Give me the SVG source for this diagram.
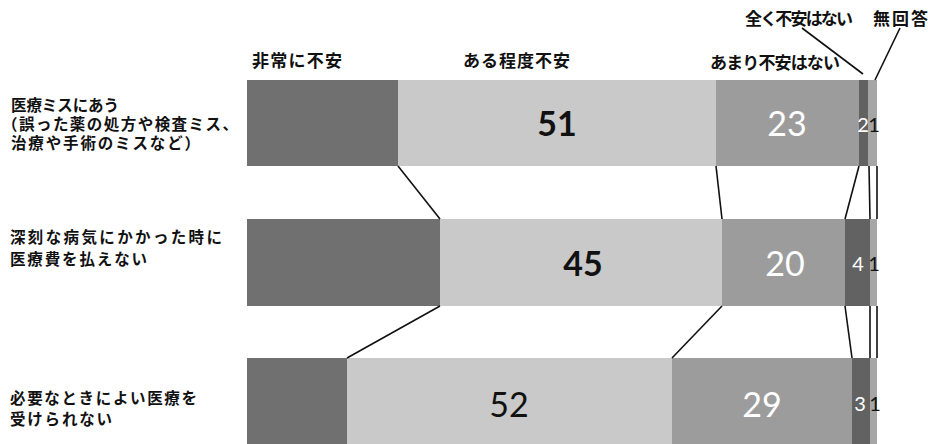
<svg xmlns="http://www.w3.org/2000/svg" width="928" height="444" viewBox="0 0 928 444">
<style>
.jp{font-family:"Noto Sans CJK JP","Noto Sans CJK SC",sans-serif;font-weight:bold;fill:#111}
.hd{font-size:17px}
.rl{font-size:15.5px}
.num{font-family:Lato,"Liberation Sans",sans-serif;font-size:34px;text-anchor:middle}
.sm{font-family:Lato,"Liberation Sans",sans-serif;font-size:20px;text-anchor:middle}
.dk{fill:#111}
.wh{fill:#fff}
.c1{fill:#707070}
.c2{fill:#c9c9c9}
.c3{fill:#9c9c9c}
.c4{fill:#626262}
.c5{fill:#a6a6a6}
.ln{stroke:#111;stroke-width:1.6;fill:none}
</style>
<rect width="928" height="444" fill="#fff"/>
<g id="headers">
<text class="jp hd" x="252" y="67" textLength="90">非常に不安</text>
<text class="jp hd" x="463" y="67" textLength="107">ある程度不安</text>
<text class="jp hd" x="710" y="69" textLength="130">あまり不安はない</text>
<text class="jp hd" x="745" y="25" textLength="108">全く不安はない</text>
<text class="jp hd" x="873" y="25" textLength="55">無回答</text>
</g>
<g id="row1">
<text class="jp rl" x="11" y="111" textLength="108">医療ミスにあう</text>
<text class="jp rl" x="2" y="130" textLength="236">（誤った薬の処方や検査ミス、</text>
<text class="jp rl" x="11" y="149" textLength="189">治療や手術のミスなど）</text>
<rect class="c1" x="247" y="80" width="151" height="86"/>
<rect class="c2" x="398" y="80" width="318" height="86"/>
<rect class="c3" x="716" y="80" width="143" height="86"/>
<rect class="c4" x="859" y="80" width="9" height="86"/>
<rect class="c5" x="868" y="80" width="9" height="86"/>
<text class="num dk" x="557" y="136" font-weight="bold">51</text>
<text class="num wh" x="787" y="136">23</text>
<text class="sm wh" x="863" y="132">2</text>
<text class="sm dk" x="874" y="132">1</text>
</g>
<g id="row2">
<text class="jp rl" x="10" y="243" textLength="212">深刻な病気にかかった時に</text>
<text class="jp rl" x="10" y="265" textLength="137">医療費を払えない</text>
<rect class="c1" x="247" y="219" width="193" height="87"/>
<rect class="c2" x="440" y="219" width="282" height="87"/>
<rect class="c3" x="722" y="219" width="123" height="87"/>
<rect class="c4" x="845" y="219" width="25" height="87"/>
<rect class="c5" x="870" y="219" width="7" height="87"/>
<text class="num dk" x="583" y="276" font-weight="bold">45</text>
<text class="num wh" x="785" y="276">20</text>
<text class="sm wh" x="858" y="271">4</text>
<text class="sm dk" x="874" y="271">1</text>
</g>
<g id="row3">
<text class="jp rl" x="10" y="404" textLength="187">必要なときによい医療を</text>
<text class="jp rl" x="10" y="425" textLength="102">受けられない</text>
<rect class="c1" x="247" y="358" width="100" height="87"/>
<rect class="c2" x="347" y="358" width="325" height="87"/>
<rect class="c3" x="672" y="358" width="180" height="87"/>
<rect class="c4" x="852" y="358" width="18" height="87"/>
<rect class="c5" x="870" y="358" width="7" height="87"/>
<text class="num dk" x="509" y="417">52</text>
<text class="num wh" x="762" y="417">29</text>
<text class="sm wh" x="860" y="411">3</text>
<text class="sm dk" x="875" y="411">1</text>
</g>
<g id="connectors">
<line class="ln" x1="802" y1="28" x2="863" y2="74"/>
<line class="ln" x1="900" y1="28" x2="875" y2="80"/>
<line class="ln" x1="398" y1="166" x2="440" y2="219"/>
<line class="ln" x1="716" y1="166" x2="722" y2="219"/>
<line class="ln" x1="859" y1="166" x2="845" y2="219"/>
<line class="ln" x1="869" y1="166" x2="870" y2="219"/>
<line class="ln" x1="877" y1="166" x2="877" y2="219"/>
<line class="ln" x1="440" y1="306" x2="347" y2="358"/>
<line class="ln" x1="722" y1="306" x2="672" y2="358"/>
<line class="ln" x1="845" y1="306" x2="852" y2="358"/>
<line class="ln" x1="870" y1="306" x2="870" y2="358"/>
<line class="ln" x1="877" y1="306" x2="877" y2="358"/>
</g>
</svg>
